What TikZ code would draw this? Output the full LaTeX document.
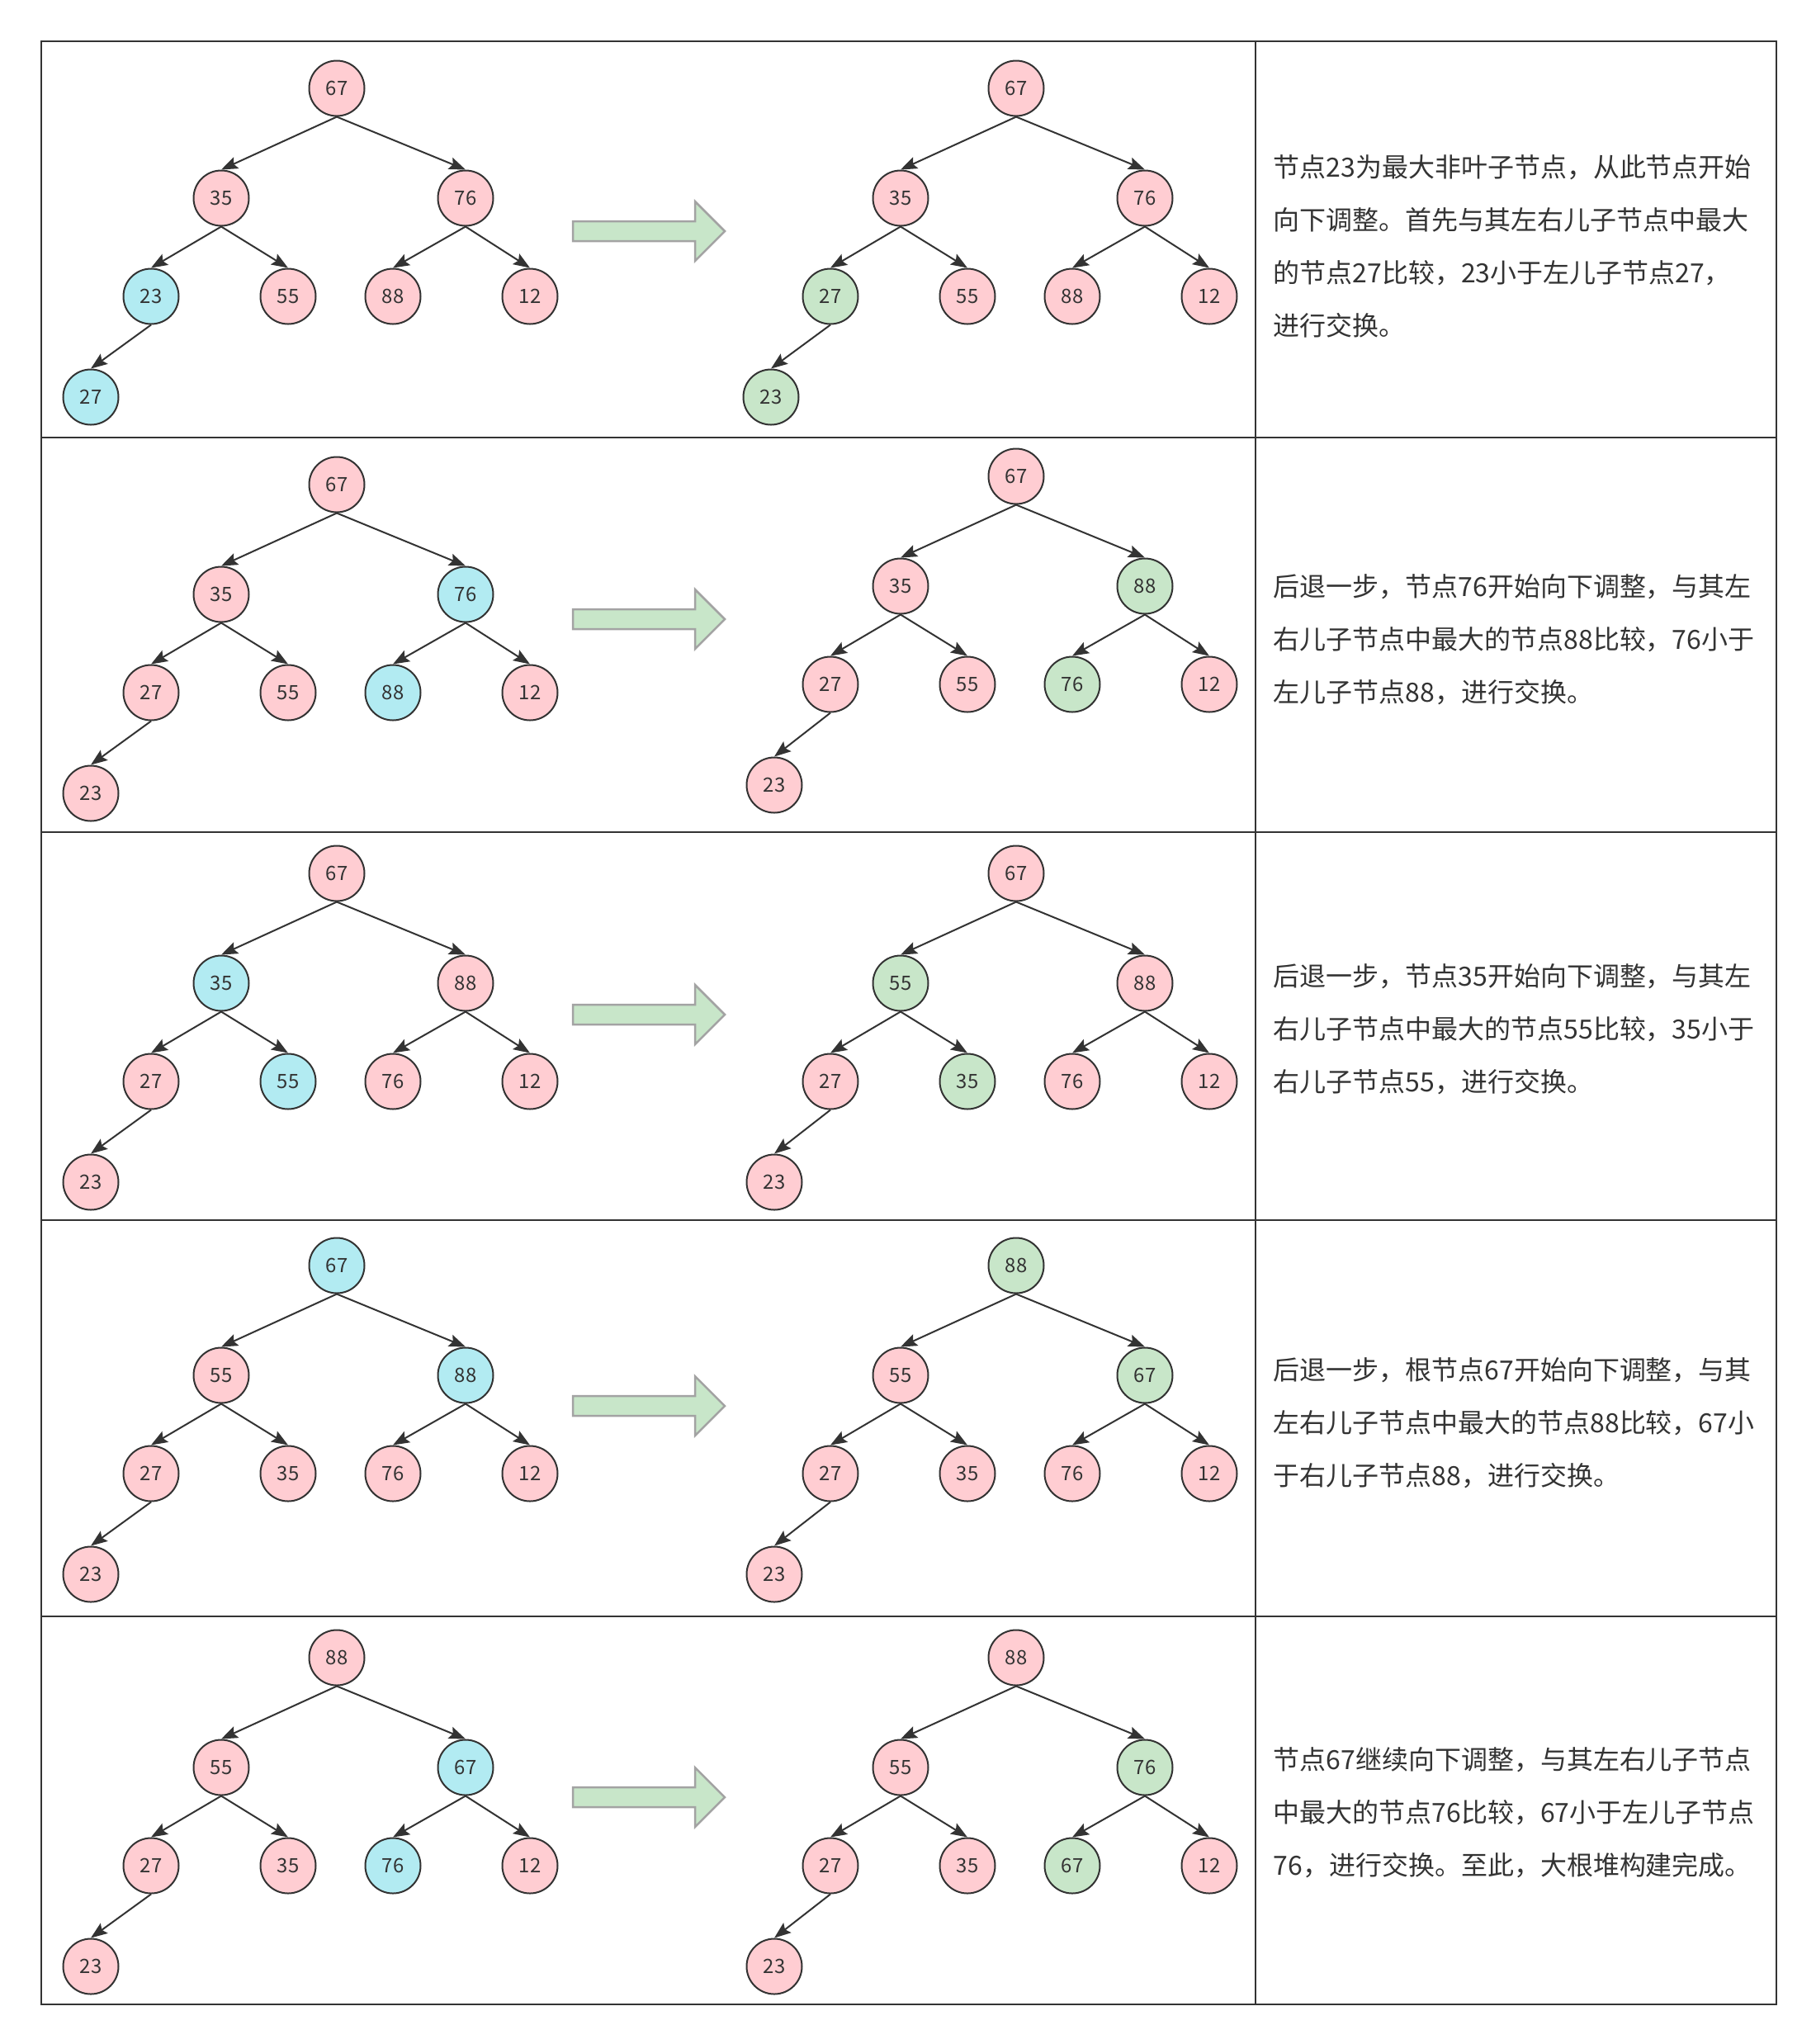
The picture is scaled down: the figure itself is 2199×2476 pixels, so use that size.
\documentclass[tikz,border=0pt]{standalone}
\usepackage{fontspec}
\setmainfont{Noto Sans CJK SC}
\usetikzlibrary{arrows.meta}
\definecolor{hpink}{HTML}{FFCDD2}
\definecolor{hblue}{HTML}{B2EBF2}
\definecolor{hgreen}{HTML}{C8E6C9}
\definecolor{ink}{HTML}{333333}
\definecolor{arrowline}{HTML}{A3A3A3}

\newcommand\heaptree[5]{%
	\foreach \val/\col [count=\n] in {#5} {
		\pgfmathsetmacro\dx{{0,-140,156,-225,-59,68,234,#4}[\n-1]}
		\pgfmathsetmacro\dy{{0,133,133,252,252,252,252,374}[\n-1]}
		\node[heapnode,fill=\col] (#1\n) at (#2+\dx,#3+\dy) {\val};
	}
	\foreach \p/\q in {1/2,1/3,2/4,2/5,3/6,3/7,4/8}
		\draw[heapedge] (#1\p.south) -- (#1\q.north);
}

\begin{document}
\begin{tikzpicture}[x=0.1mm,y=-0.1mm,
	heapnode/.style={circle,draw=ink,line width=0.2mm,minimum size=6.7mm,inner sep=0pt,text=ink,font=\fontsize{6.8pt}{8pt}\selectfont},
	heapedge/.style={draw=ink,line width=0.2mm,-{Stealth[length=2mm,width=1.5mm,inset=0.35mm]}},
	tableline/.style={draw=ink,line width=0.25mm},
	bigarrow/.style={fill=hgreen,draw=arrowline,line width=0.25mm},
	note/.style={anchor=west,align=left,inner sep=0pt,text=ink,font=\fontsize{9.1pt}{18.2pt}\selectfont}]
	\useasboundingbox (0,0) rectangle (2199,2476);
	\draw[tableline] (50,50) rectangle (2152,2428);
	\draw[tableline] (1521,50) -- (1521,2428);
	\foreach \y in {530,1008,1478,1958}
		\draw[tableline] (50,\y) -- (2152,\y);

	\heaptree{L1-}{408}{107}{-298}{67/hpink,35/hpink,76/hpink,23/hblue,55/hpink,88/hpink,12/hpink,27/hblue}
	\heaptree{R1-}{1231}{107}{-297}{67/hpink,35/hpink,76/hpink,27/hgreen,55/hpink,88/hpink,12/hpink,23/hgreen}
	\heaptree{L2-}{408}{587}{-298}{67/hpink,35/hpink,76/hblue,27/hpink,55/hpink,88/hblue,12/hpink,23/hpink}
	\heaptree{R2-}{1231}{577}{-293}{67/hpink,35/hpink,88/hgreen,27/hpink,55/hpink,76/hgreen,12/hpink,23/hpink}
	\heaptree{L3-}{408}{1058}{-298}{67/hpink,35/hblue,88/hpink,27/hpink,55/hblue,76/hpink,12/hpink,23/hpink}
	\heaptree{R3-}{1231}{1058}{-293}{67/hpink,55/hgreen,88/hpink,27/hpink,35/hgreen,76/hpink,12/hpink,23/hpink}
	\heaptree{L4-}{408}{1533}{-298}{67/hblue,55/hpink,88/hblue,27/hpink,35/hpink,76/hpink,12/hpink,23/hpink}
	\heaptree{R4-}{1231}{1533}{-293}{88/hgreen,55/hpink,67/hgreen,27/hpink,35/hpink,76/hpink,12/hpink,23/hpink}
	\heaptree{L5-}{408}{2008}{-298}{88/hpink,55/hpink,67/hblue,27/hpink,35/hpink,76/hblue,12/hpink,23/hpink}
	\heaptree{R5-}{1231}{2008}{-293}{88/hpink,55/hpink,76/hgreen,27/hpink,35/hpink,67/hgreen,12/hpink,23/hpink}

	\foreach \y in {280,750,1229,1703,2177}
		\draw[bigarrow] (694,\y-12) -- (842,\y-12) -- (842,\y-36) -- (878,\y) -- (842,\y+36) -- (842,\y+12) -- (694,\y+12) -- cycle;

	\node[note] (T1) at (1542,298) {节点23为最大非叶子节点，从此节点开始\\向下调整。首先与其左右儿子节点中最大\\的节点27比较，23小于左儿子节点27，\\进行交换。};
	\node[note] (T2) at (1542,775) {后退一步，节点76开始向下调整，与其左\\右儿子节点中最大的节点88比较，76小于\\左儿子节点88，进行交换。};
	\node[note] (T3) at (1542,1247) {后退一步，节点35开始向下调整，与其左\\右儿子节点中最大的节点55比较，35小于\\右儿子节点55，进行交换。};
	\node[note] (T4) at (1542,1724) {后退一步，根节点67开始向下调整，与其\\左右儿子节点中最大的节点88比较，67小\\于右儿子节点88，进行交换。};
	\node[note] (T5) at (1542,2196) {节点67继续向下调整，与其左右儿子节点\\中最大的节点76比较，67小于左儿子节点\\76，进行交换。至此，大根堆构建完成。};
\end{tikzpicture}
\end{document}
